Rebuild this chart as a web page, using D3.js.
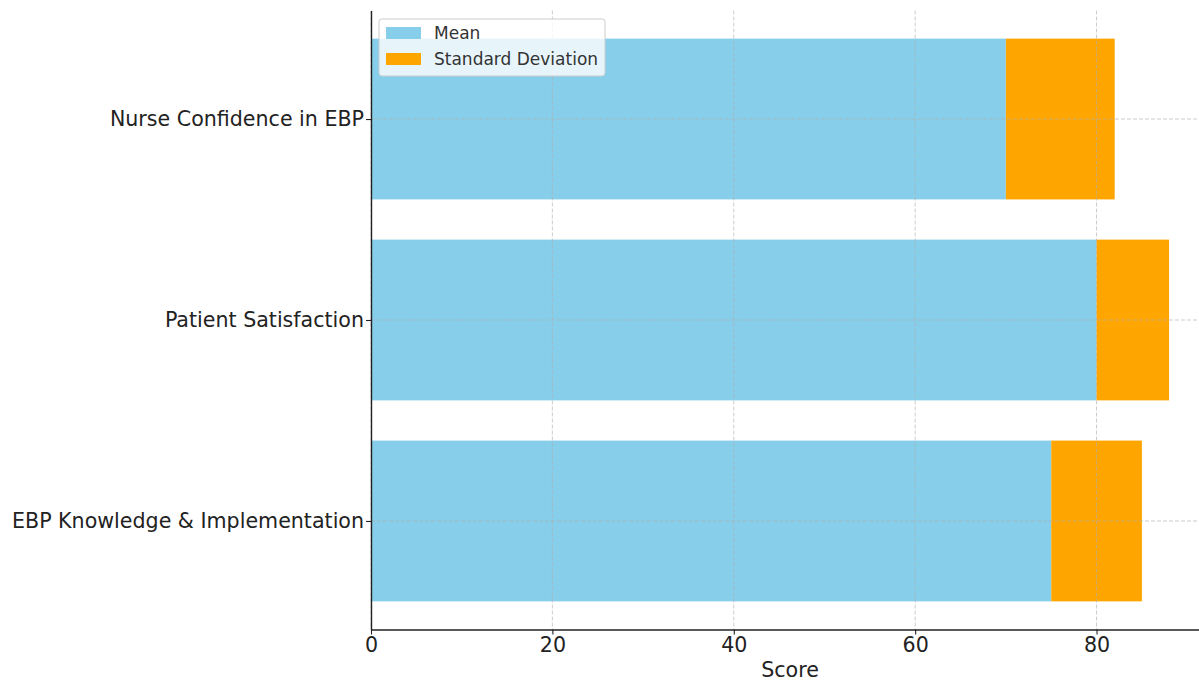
<!DOCTYPE html>
<html>
<head>
<meta charset="utf-8">
<script src="https://cdn.jsdelivr.net/npm/d3@7"></script>
<style>
  body { margin: 0; background: #fff; }
  svg { display: block; font-family: "DejaVu Sans", sans-serif; }
</style>
</head>
<body>
<svg id="chart" width="1199" height="682"></svg>
<script>
// Survey outcome measures (bottom to top on the chart)
const categories = ["EBP Knowledge & Implementation", "Patient Satisfaction", "Nurse Confidence in EBP"];
const meanValues = [75, 80, 70];
const sdValues = [10, 8, 12];
const xTicks = [0, 20, 40, 60, 80];
const seriesNames = ["Mean", "Standard Deviation"];
const seriesColors = ["#87CEEB", "#FFA500"];

const svg = d3.select("#chart");
const margin = { left: 371, right: 1209, top: 10.5, bottom: 629.5 };
const labelSize = 20.6;

const x = d3.scaleLinear().domain([0, 92.4]).range([margin.left, margin.right]);
const y = d3.scaleLinear().domain([-0.54, 2.54]).range([margin.bottom, margin.top]);
const barH = y(0) - y(0.8);

const rows = categories.map((c, i) => ({ c, i, mean: meanValues[i], sd: sdValues[i] }));

// Mean bars
svg.append("g").selectAll("rect").data(rows).join("rect")
  .attr("x", d => x(0))
  .attr("y", d => y(d.i + 0.4))
  .attr("width", d => x(d.mean) - x(0))
  .attr("height", barH)
  .attr("fill", seriesColors[0]);

// Standard deviation stacked on the mean
svg.append("g").selectAll("rect").data(rows).join("rect")
  .attr("x", d => x(d.mean))
  .attr("y", d => y(d.i + 0.4))
  .attr("width", d => x(d.mean + d.sd) - x(d.mean))
  .attr("height", barH)
  .attr("fill", seriesColors[1]);

// Dashed grid over the bars
const grid = svg.append("g").attr("stroke", "#b0b0b0").attr("stroke-opacity", 0.7)
  .attr("stroke-dasharray", "4,2").attr("stroke-width", 0.9);
grid.selectAll("line.v").data(xTicks).join("line")
  .attr("x1", d => x(d)).attr("x2", d => x(d))
  .attr("y1", margin.top).attr("y2", margin.bottom);
grid.selectAll("line.h").data(rows).join("line")
  .attr("x1", margin.left).attr("x2", margin.right)
  .attr("y1", d => y(d.i)).attr("y2", d => y(d.i));

// X axis
const xAxis = svg.append("g")
  .attr("transform", `translate(0,${margin.bottom})`)
  .call(d3.axisBottom(x).tickValues(xTicks).tickSize(5).tickPadding(3).tickSizeOuter(0));
xAxis.select(".domain").attr("stroke", "#222").attr("stroke-width", 1.4);
xAxis.selectAll(".tick line").attr("stroke", "#222").attr("stroke-width", 1.1);
xAxis.selectAll(".tick text").attr("font-size", labelSize).attr("fill", "#222")
  .attr("font-family", "DejaVu Sans, sans-serif");

// Y axis
const yAxis = svg.append("g")
  .attr("transform", `translate(${margin.left},0)`)
  .call(d3.axisLeft(y).tickValues([0, 1, 2]).tickFormat(d => categories[d]).tickSize(5).tickPadding(2).tickSizeOuter(0));
yAxis.select(".domain").attr("stroke", "#222").attr("stroke-width", 1.4);
yAxis.selectAll(".tick line").attr("stroke", "#222").attr("stroke-width", 1.1);
yAxis.selectAll(".tick text").attr("font-size", labelSize).attr("fill", "#222")
  .attr("font-family", "DejaVu Sans, sans-serif");

// X axis title
svg.append("text")
  .attr("x", (margin.left + margin.right) / 2)
  .attr("y", 677)
  .attr("text-anchor", "middle")
  .attr("font-size", labelSize)
  .attr("fill", "#222")
  .text("Score");

// Legend
const legend = svg.append("g").attr("transform", "translate(379,19)");
legend.append("rect")
  .attr("width", 226).attr("height", 57).attr("rx", 3)
  .attr("fill", "#fff").attr("fill-opacity", 0.8)
  .attr("stroke", "#ccc").attr("stroke-width", 1);
seriesNames.forEach((name, i) => {
  legend.append("rect")
    .attr("x", 7).attr("y", 8 + i * 26)
    .attr("width", 35).attr("height", 12)
    .attr("fill", seriesColors[i]);
  legend.append("text")
    .attr("x", 55).attr("y", 20 + i * 26)
    .attr("font-size", 17).attr("fill", "#333")
    .text(name);
});
</script>
</body>
</html>
